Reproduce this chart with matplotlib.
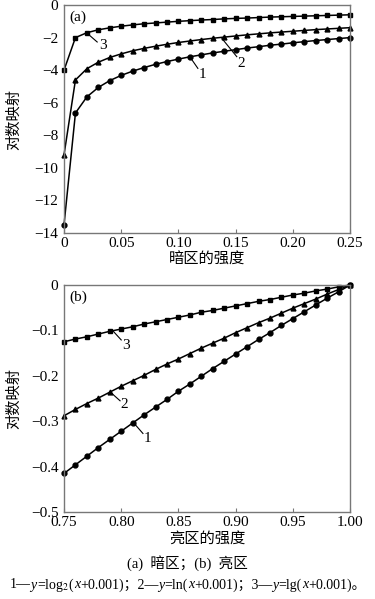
import numpy as np
import matplotlib
matplotlib.use("Agg")
import matplotlib.pyplot as plt
from matplotlib.offsetbox import TextArea, HPacker, AnchoredOffsetbox

plt.rcParams['font.family'] = ['Liberation Serif', 'Noto Sans CJK SC']
plt.rcParams['mathtext.fontset'] = 'stix'
plt.rcParams['axes.unicode_minus'] = True

#----------------------------------------------------------
# Data
#----------------------------------------------------------
x_dark = [0.00, 0.01, 0.02, 0.03, 0.04, 0.05, 0.06, 0.07, 0.08, 0.09,
          0.10, 0.11, 0.12, 0.13, 0.14, 0.15, 0.16, 0.17, 0.18, 0.19,
          0.20, 0.21, 0.22, 0.23, 0.24, 0.25]
dark_log2 = [-13.50, -6.63, -5.64, -5.06, -4.64, -4.32, -4.06, -3.84, -3.64, -3.47,
             -3.32, -3.18, -3.06, -2.94, -2.84, -2.74, -2.64, -2.56, -2.47, -2.40,
             -2.32, -2.25, -2.18, -2.12, -2.06, -2.00]
dark_ln = [-9.20, -4.60, -3.91, -3.51, -3.22, -3.00, -2.81, -2.66, -2.53, -2.41,
           -2.30, -2.21, -2.12, -2.04, -1.97, -1.90, -1.83, -1.77, -1.71, -1.66,
           -1.61, -1.56, -1.51, -1.47, -1.43, -1.39]
dark_lg = [-4.00, -2.00, -1.70, -1.52, -1.40, -1.30, -1.22, -1.15, -1.10, -1.05,
           -1.00, -0.96, -0.92, -0.89, -0.85, -0.82, -0.80, -0.77, -0.74, -0.72,
           -0.70, -0.68, -0.66, -0.64, -0.62, -0.60]

x_bright = [0.75, 0.76, 0.77, 0.78, 0.79, 0.80, 0.81, 0.82, 0.83, 0.84,
            0.85, 0.86, 0.87, 0.88, 0.89, 0.90, 0.91, 0.92, 0.93, 0.94,
            0.95, 0.96, 0.97, 0.98, 0.99, 1.00]
bright_log2 = [-0.415, -0.396, -0.377, -0.358, -0.340, -0.322, -0.304, -0.286, -0.269, -0.252,
               -0.234, -0.218, -0.201, -0.184, -0.168, -0.152, -0.136, -0.120, -0.105, -0.089,
               -0.074, -0.059, -0.044, -0.029, -0.015, 0.000]
bright_ln = [-0.288, -0.274, -0.261, -0.249, -0.236, -0.223, -0.211, -0.199, -0.186, -0.174,
             -0.163, -0.151, -0.139, -0.128, -0.117, -0.105, -0.094, -0.083, -0.073, -0.062,
             -0.051, -0.041, -0.031, -0.020, -0.010, 0.000]
bright_lg = [-0.125, -0.119, -0.114, -0.108, -0.102, -0.097, -0.092, -0.086, -0.081, -0.076,
             -0.071, -0.066, -0.060, -0.056, -0.051, -0.046, -0.041, -0.036, -0.032, -0.027,
             -0.022, -0.018, -0.013, -0.009, -0.004, 0.000]

dark_ticks = [0, 0.05, 0.10, 0.15, 0.20, 0.25]
dark_ticklabels = ["0", "0.05", "0.10", "0.15", "0.20", "0.25"]
bright_ticks = [0.75, 0.80, 0.85, 0.90, 0.95, 1.00]
bright_ticklabels = ["0.75", "0.80", "0.85", "0.90", "0.95", "1.00"]

SPINE = "#777777"

#----------------------------------------------------------
def StyleAxes(ax):
    for s in ax.spines.values():
        s.set_color(SPINE)
        s.set_linewidth(1.0)
    ax.tick_params(axis='x', direction='in', length=3, color=SPINE,
                   labelsize=11, pad=3)
    ax.tick_params(axis='y', length=0, labelsize=11, pad=4)

#----------------------------------------------------------
def DrawCurves(ax, x, y1, y2, y3):
    ax.plot(x, y1, color='black', lw=1.1, marker='o', ms=3.5, clip_on=False)
    ax.plot(x, y2, color='black', lw=1.1, marker='^', ms=3.5, clip_on=False)
    ax.plot(x, y3, color='black', lw=1.1, marker='s', ms=3.5, clip_on=False)

#----------------------------------------------------------
def Leader(ax, label, p0, p1, ptxt):
    ax.plot([p0[0], p1[0]], [p0[1], p1[1]], color='black', lw=0.8)
    ax.text(ptxt[0], ptxt[1], label, fontsize=11, ha='center', va='center')

#----------------------------------------------------------
fig = plt.figure(figsize=(3.75, 5.99), dpi=100)

# (a) dark region
ax1 = fig.add_axes([0.1707, 0.611, 0.7627, 0.3806])
DrawCurves(ax1, x_dark, dark_log2, dark_ln, dark_lg)
ax1.set_xlim(0, 0.25)
ax1.set_ylim(-14, 0)
ax1.set_xticks(dark_ticks)
ax1.set_xticklabels(dark_ticklabels)
ax1.set_yticks([0, -2, -4, -6, -8, -10, -12, -14])
StyleAxes(ax1)
ax1.set_xlabel("暗区的强度", fontsize=11, labelpad=2)
ax1.set_ylabel("对数映射", fontsize=11)
ax1.yaxis.set_label_coords(-0.15, 0.5)
ax1.text(0.0045, -0.75, "(a)", fontsize=11, ha='left', va='center')
Leader(ax1, "3", (0.020, -1.72), (0.029, -2.27), (0.034, -2.5))
Leader(ax1, "2", (0.138, -2.05), (0.151, -3.17), (0.155, -3.6))
Leader(ax1, "1", (0.110, -3.18), (0.117, -3.89), (0.121, -4.25))

# (b) bright region
ax2 = fig.add_axes([0.1707, 0.1452, 0.7627, 0.379])
DrawCurves(ax2, x_bright, bright_log2, bright_ln, bright_lg)
ax2.set_xlim(0.75, 1.0)
ax2.set_ylim(-0.5, 0)
ax2.set_xticks(bright_ticks)
ax2.set_xticklabels(bright_ticklabels)
ax2.set_yticks([0, -0.1, -0.2, -0.3, -0.4, -0.5])
ax2.set_yticklabels(["0", "\u22120.1", "\u22120.2", "\u22120.3", "\u22120.4", "\u22120.5"])
StyleAxes(ax2)
ax2.set_xlabel("亮区的强度", fontsize=11, labelpad=2)
ax2.set_ylabel("对数映射", fontsize=11)
ax2.yaxis.set_label_coords(-0.15, 0.5)
ax2.text(0.7545, -0.027, "(b)", fontsize=11, ha='left', va='center')
Leader(ax2, "3", (0.792, -0.099), (0.800, -0.121), (0.804, -0.133))
Leader(ax2, "2", (0.791, -0.237), (0.799, -0.255), (0.803, -0.263))
Leader(ax2, "1", (0.811, -0.304), (0.819, -0.327), (0.823, -0.339))

# captions
fig.text(0.5, 1 - 563 / 599, "(a)  暗区；(b)  亮区", fontsize=10.5,
         ha='center', va='center')

# formula line built from pieces so the CJK punctuation and italics mix
FS = 10
normal = dict(fontsize=FS, family=['Liberation Serif', 'Noto Sans CJK SC'])
italic = dict(fontsize=FS, family='Liberation Serif', style='italic')
pieces = [
    ("1—", normal), ("y", italic), ("=log$_2$(", normal), ("x", italic),
    ("+0.001)；2—", normal), ("y", italic), ("=ln(", normal), ("x", italic),
    ("+0.001)；3—", normal), ("y", italic), ("=lg(", normal), ("x", italic),
    ("+0.001)。", normal),
]
boxes = [TextArea(t, textprops=p) for t, p in pieces]
pack = HPacker(children=boxes, align="baseline", pad=0, sep=0)
anch = AnchoredOffsetbox(loc='center', child=pack, frameon=False,
                         bbox_to_anchor=(0.5, 1 - 585 / 599),
                         bbox_transform=fig.transFigure, pad=0, borderpad=0)
fig.add_artist(anch)

fig.savefig("out.png", dpi=100)
